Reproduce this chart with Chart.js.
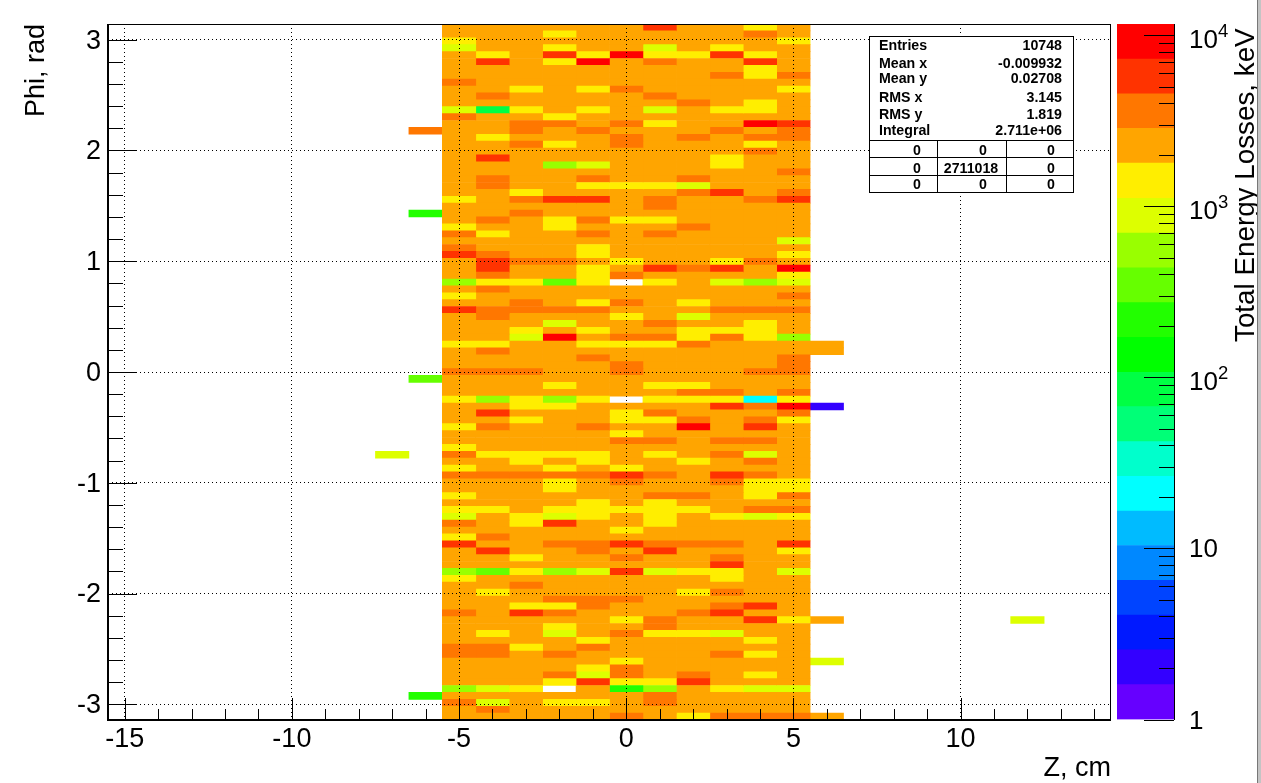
<!DOCTYPE html>
<html>
<head>
<meta charset="utf-8">
<title>Total Energy Losses</title>
<script src="https://cdn.jsdelivr.net/npm/chart.js@4/dist/chart.umd.min.js"></script>
<style>
  html, body { margin: 0; padding: 0; background: #fff; overflow: hidden; }
  #wrap { position: relative; width: 1261px; height: 783px; }
  canvas { position: absolute; left: 0; top: 0; }
  #edge { position: absolute; left: 1257px; top: 0; width: 4px; height: 783px; background: #c4c4c4; border-left: 1px solid #777; box-sizing: border-box; }
</style>
</head>
<body>
<div id="wrap">
  <canvas id="mapChart" width="1261" height="783"></canvas>
  <canvas id="barChart" width="1261" height="783"></canvas>
  <div id="edge"></div>
</div>
<script>
// Z columns of the main block (cm)
const zColumns = [-5, -4, -3, -2, -1, 0, 1, 2, 3, 4, 5];
const zTicks = [-15, -10, -5, 0, 5, 10];
const phiTicks = [-3, -2, -1, 0, 1, 2, 3];

// Total losses in keV, top row (phi = +pi) first, one line per phi bin
const lossRows = [
  [2400,2400,2400,2400,2400,2400,5800,2400,2400,1400,2400],
  [2400,2400,2400,1400,2400,2400,2400,2400,2400,3600,2400],
  [1400,2400,2400,2400,2400,2400,2400,2400,2400,2400,1400],
  [900,2400,2400,1400,2400,2400,900,2400,1400,2400,2400],
  [2400,1400,2400,5800,1400,9000,1400,1400,5800,1400,2400],
  [2400,5800,2400,1400,9000,2400,3600,2400,2400,5800,2400],
  [2400,2400,2400,2400,2400,2400,2400,2400,2400,1400,2400],
  [2400,2400,2400,2400,2400,2400,2400,2400,3600,1400,3600],
  [3600,2400,2400,2400,2400,2400,2400,2400,2400,2400,2400],
  [2400,2400,1400,2400,1400,3600,2400,2400,2400,2400,1400],
  [2400,3600,2400,2400,2400,2400,3600,2400,2400,2400,2400],
  [2400,2400,2400,2400,2400,2400,2400,3600,2400,1400,2400],
  [900,85,1400,2400,1400,2400,900,2400,1400,1400,2400],
  [3600,2400,2400,1400,2400,2400,2400,2400,2400,2400,2400],
  [2400,2400,3600,3600,2400,3600,1400,2400,2400,9000,5800],
  [2400,2400,3600,2400,3600,2400,2400,2400,3600,2400,3600],
  [2400,1400,2400,2400,2400,3600,2400,3600,2400,3600,3600],
  [2400,2400,3600,1400,2400,3600,2400,2400,2400,1400,2400],
  [2400,2400,2400,2400,2400,2400,2400,2400,2400,3600,2400],
  [2400,5800,2400,2400,2400,2400,2400,2400,1400,2400,2400],
  [2400,2400,2400,560,900,2400,2400,2400,1400,2400,2400],
  [2400,2400,2400,2400,2400,2400,2400,2400,2400,2400,3600],
  [2400,3600,2400,2400,3600,2400,2400,3600,2400,2400,2400],
  [2400,3600,2400,2400,1400,1400,1400,900,2400,2400,2400],
  [2400,2400,1400,2400,2400,2400,2400,3600,5800,2400,3600],
  [1400,2400,3600,5800,5800,2400,3600,2400,2400,3600,5800],
  [2400,2400,2400,2400,2400,2400,3600,2400,2400,2400,2400],
  [2400,2400,3600,2400,2400,2400,2400,2400,2400,2400,2400],
  [2400,3600,2400,1400,3600,1400,1400,2400,2400,2400,2400],
  [1400,2400,2400,1400,2400,2400,2400,3600,2400,2400,2400],
  [3600,1400,2400,2400,3600,2400,3600,2400,2400,2400,2400],
  [2400,2400,2400,2400,2400,2400,2400,2400,2400,2400,900],
  [3600,2400,2400,2400,1400,2400,2400,2400,2400,2400,2400],
  [5800,3600,2400,2400,1400,2400,2400,2400,2400,2400,1400],
  [2400,5800,3600,3600,2400,1400,2400,2400,1400,3600,2400],
  [2400,5800,2400,2400,1400,2400,5800,3600,5800,2400,9000],
  [2400,3600,2400,2400,1400,3600,2400,2400,2400,2400,1400],
  [560,1400,1400,350,1400,null,1400,2400,900,560,900],
  [2400,3600,2400,2400,2400,2400,2400,2400,2400,2400,2400],
  [1400,2400,2400,2400,2400,2400,2400,2400,2400,2400,3600],
  [2400,2400,3600,2400,1400,3600,2400,1400,2400,2400,2400],
  [5800,3600,3600,3600,3600,2400,2400,2400,3600,3600,3600],
  [2400,3600,2400,2400,2400,1400,2400,900,2400,2400,2400],
  [2400,2400,2400,900,2400,2400,3600,2400,2400,1400,2400],
  [2400,2400,1400,2400,1400,2400,2400,1400,1400,1400,2400],
  [2400,2400,900,9000,2400,3600,3600,1400,3600,1400,560],
  [1400,1400,2400,2400,1400,1400,1400,3600,2400,2400,2400],
  [2400,3600,2400,2400,2400,2400,2400,2400,2400,2400,2400],
  [2400,2400,2400,2400,3600,2400,2400,2400,2400,2400,3600],
  [2400,2400,2400,2400,2400,3600,2400,2400,2400,2400,3600],
  [3600,3600,3600,2400,2400,3600,2400,2400,2400,3600,3600],
  [2400,2400,2400,2400,2400,2400,2400,2400,2400,2400,2400],
  [2400,2400,2400,1400,2400,2400,1400,1400,2400,2400,2400],
  [2400,2400,2400,2400,2400,2400,2400,3600,3600,2400,3600],
  [1400,560,1400,560,1400,null,1400,1400,1400,21,1400],
  [2400,2400,1400,1400,2400,2400,2400,2400,5800,3600,9000],
  [2400,5800,2400,2400,2400,1400,3600,2400,2400,2400,3600],
  [2400,2400,1400,2400,2400,1400,1400,3600,2400,3600,1400],
  [1400,3600,2400,2400,3600,2400,2400,9000,2400,5800,2400],
  [2400,2400,2400,2400,2400,1400,2400,2400,2400,2400,2400],
  [2400,2400,2400,2400,2400,3600,3600,2400,3600,3600,2400],
  [1400,2400,2400,2400,2400,2400,2400,2400,2400,2400,2400],
  [3600,1400,1400,1400,1400,2400,1400,2400,3600,900,2400],
  [2400,2400,1400,2400,1400,2400,2400,1400,2400,3600,2400],
  [1400,2400,2400,1400,2400,1400,2400,2400,2400,2400,2400],
  [3600,3600,3600,3600,3600,5800,3600,2400,5800,3600,2400],
  [2400,2400,2400,1400,2400,3600,2400,2400,3600,1400,1400],
  [2400,2400,2400,1400,2400,2400,2400,2400,2400,1400,1400],
  [1400,2400,2400,2400,2400,2400,3600,3600,2400,1400,3600],
  [2400,2400,2400,2400,1400,2400,1400,2400,2400,2400,2400],
  [1400,1400,2400,1400,1400,1400,1400,1400,2400,3600,3600],
  [900,2400,1400,900,1400,2400,1400,2400,1400,900,1400],
  [3600,2400,1400,5800,2400,2400,1400,2400,2400,2400,2400],
  [2400,2400,2400,2400,2400,1400,2400,2400,2400,2400,2400],
  [1400,3600,2400,2400,2400,2400,2400,2400,2400,2400,2400],
  [5800,2400,2400,3600,3600,5800,3600,3600,3600,2400,5800],
  [2400,5800,2400,2400,3600,2400,5800,2400,2400,2400,1400],
  [2400,2400,1400,2400,2400,3600,2400,2400,3600,2400,2400],
  [2400,2400,2400,2400,2400,2400,2400,2400,5800,2400,2400],
  [560,350,1400,560,900,5800,900,1400,1400,2400,900],
  [1400,2400,2400,2400,2400,2400,2400,2400,1400,2400,2400],
  [2400,2400,3600,2400,2400,2400,2400,2400,2400,2400,2400],
  [2400,1400,2400,2400,2400,2400,2400,1400,3600,2400,2400],
  [2400,2400,2400,3600,3600,3600,2400,2400,2400,2400,2400],
  [2400,2400,1400,1400,3600,2400,2400,2400,3600,5800,2400],
  [3600,2400,5800,3600,2400,2400,2400,3600,5800,2400,2400],
  [2400,2400,2400,2400,2400,1400,3600,2400,2400,5800,1400],
  [2400,2400,2400,1400,2400,2400,3600,2400,2400,2400,2400],
  [2400,1400,2400,900,2400,3600,1400,1400,900,2400,2400],
  [2400,2400,2400,2400,1400,2400,2400,2400,2400,1400,2400],
  [3600,3600,1400,2400,3600,2400,2400,2400,2400,2400,2400],
  [3600,3600,2400,3600,2400,2400,2400,2400,3600,1400,2400],
  [2400,2400,2400,2400,2400,1400,2400,2400,2400,2400,2400],
  [2400,2400,2400,2400,1400,3600,2400,2400,2400,2400,2400],
  [2400,2400,2400,3600,900,3600,2400,3600,2400,1400,2400],
  [2400,2400,2400,1400,5800,1400,1400,5800,2400,2400,2400],
  [560,900,1400,null,2400,220,560,2400,1400,900,900],
  [2400,2400,2400,2400,2400,2400,3600,2400,2400,2400,2400],
  [3600,900,2400,1400,1400,2400,3600,2400,2400,2400,2400],
  [2400,3600,2400,2400,2400,2400,2400,2400,2400,2400,2400],
  [2400,2400,2400,2400,2400,3600,2400,1400,3600,3600,3600]
];

// Isolated cells outside the main block
const strayZ = [-6, -6, -6, -7, -6, 6, 6, 6, 6, 6, 6, 12];
const strayRow = [15, 27, 51, 62, 97, 46, 47, 55, 86, 92, 100, 86];
const strayLoss = [3600, 220, 350, 900, 220, 2400, 2400, 2, 2400, 900, 2400, 900];

// Colour bar: 20 levels, bottom to top
const levelEdges = [1, 1.6, 2.55, 4.07, 6.5, 10.4, 16.5, 26.4, 42.1, 67.3, 107, 171, 273, 436, 696, 1112, 1783, 2845, 4540, 7246, 11600];
const levelColors = ['#6600ff', '#3300ff', '#0019ff', '#0044ff', '#0088ff', '#00bbff', '#00ffff', '#00ffcc', '#00ff77', '#00ff44',
  '#00ff00', '#22ff00', '#66ff00', '#99ff00', '#ddff00', '#ffee00', '#ffa500', '#ff7700', '#ff3300', '#ff0000'];
const barDecades = [1, 10, 100, 1000, 10000];
const barExponents = ['1', '10', '2', '3', '4'];

// Stats box
const statNames = ['Entries', 'Mean x', 'Mean y', 'RMS x', 'RMS y', 'Integral'];
const statValues = ['10748', '-0.009932', '0.02708', '3.145', '1.819', '2.711e+06'];
const statGrid = [['0', '0', '0'], ['0', '2711018', '0'], ['0', '0', '0']];

const fontName = '"Liberation Sans", Arial, sans-serif';
const colorFor = v => {
  let i = levelEdges.findIndex(e => v < e) - 1;
  if (i < 0) i = levelColors.length - 1;
  return levelColors[i];
};
const phiLabels = lossRows.map((r, i) => 'bin' + i);

// one bar dataset per Z column, floating bars [z-0.5, z+0.5]
const datasets = zColumns.map((z, col) => ({
  data: lossRows.map(r => r[col] === null ? null : [z - 0.5, z + 0.5]),
  backgroundColor: ctx => colorFor(lossRows[ctx.dataIndex][col]),
}));
strayZ.forEach((z, k) => {
  datasets.push({
    data: phiLabels.map((l, i) => i === strayRow[k] ? [z - 0.5, z + 0.5] : null),
    backgroundColor: colorFor(strayLoss[k]),
  });
});
datasets.forEach(d => {
  d.grouped = false;
  d.barPercentage = 1;
  d.categoryPercentage = 1;
  d.borderWidth = 0;
  d.xAxisID = 'x';
  d.yAxisID = 'y';
});

// ROOT style inward ticks and frame
const frameTicks = {
  id: 'frameTicks',
  afterDatasetsDraw(chart) {
    const { ctx, chartArea: a, scales } = chart;
    ctx.save();
    ctx.strokeStyle = '#000';
    ctx.lineWidth = 1;
    ctx.beginPath();
    for (let z = -15; z <= 14; z++) {
      const px = Math.round(scales.x.getPixelForValue(z)) + 0.5;
      ctx.moveTo(px, a.bottom);
      ctx.lineTo(px, a.bottom - (z % 5 === 0 ? 22 : 11));
    }
    for (let k = -15; k <= 15; k++) {
      const py = Math.round(scales.yPhi.getPixelForValue(k / 5)) + 0.5;
      ctx.moveTo(a.left, py);
      ctx.lineTo(a.left + (k % 5 === 0 ? 29 : 15), py);
    }
    ctx.stroke();
    ctx.strokeRect(a.left + 0.5, a.top + 0.5, a.right - a.left - 1, a.bottom - a.top - 1);
    ctx.lineWidth = 2;
    ctx.beginPath();
    ctx.moveTo(a.left, a.top);
    ctx.lineTo(a.left, a.bottom);
    ctx.lineTo(a.right, a.bottom);
    ctx.stroke();
    ctx.restore();
  }
};

new Chart(document.getElementById('mapChart'), {
  type: 'bar',
  data: { labels: phiLabels, datasets: datasets },
  plugins: [frameTicks],
  options: {
    indexAxis: 'y',
    responsive: false,
    animation: false,
    layout: { padding: { left: 0, right: 150, top: 24, bottom: 0 } },
    plugins: { legend: { display: false }, tooltip: { enabled: false } },
    scales: {
      x: {
        type: 'linear',
        min: -15.5,
        max: 14.5,
        afterBuildTicks: s => { s.ticks = zTicks.map(v => ({ value: v })); },
        afterFit: s => { s.height = 63; },
        ticks: { color: '#000', font: { family: fontName, size: 27 }, padding: 3, autoSkip: false, maxRotation: 0 },
        grid: { z: 1, color: '#000', lineWidth: 1, drawTicks: false },
        border: { display: false, dash: [1, 3] },
        title: { display: true, text: 'Z, cm', align: 'end', color: '#000', font: { family: fontName, size: 27 }, padding: { top: 0, bottom: -2 } },
      },
      y: { type: 'category', display: false, grid: { display: false } },
      yPhi: {
        type: 'linear',
        position: 'left',
        display: true,
        offset: false,
        min: -Math.PI,
        max: Math.PI,
        afterBuildTicks: s => { s.ticks = phiTicks.map(v => ({ value: v })); },
        afterFit: s => { s.width = 108; },
        ticks: { color: '#000', font: { family: fontName, size: 27 }, padding: 7, labelOffset: 1.5, autoSkip: false, maxRotation: 0 },
        grid: { z: 1, offset: false, color: '#000', lineWidth: 1, drawTicks: false },
        border: { display: false, dash: [1, 3] },
        title: { display: true, text: 'Phi, rad', align: 'end', color: '#000', font: { family: fontName, size: 27 }, padding: { top: 20, bottom: 0 } },
      },
    },
  },
});

// colour bar ticks, labels, title and the stats box sit on the top canvas
const barDecor = {
  id: 'barDecor',
  afterDatasetsDraw(chart) {
    const { ctx, chartArea: a, scales } = chart;
    const y = scales.y;
    ctx.save();
    ctx.strokeStyle = '#000';
    ctx.lineWidth = 1;
    ctx.beginPath();
    ctx.moveTo(a.right + 0.5, 24);
    ctx.lineTo(a.right + 0.5, 720);
    barDecades.forEach(d => {
      const py = Math.round(y.getPixelForValue(d)) + 0.5;
      ctx.moveTo(a.right, py);
      ctx.lineTo(a.right - 30, py);
      if (d === 10000) return;
      for (let m = 2; m <= 9; m++) {
        const pm = Math.round(y.getPixelForValue(d * m)) + 0.5;
        ctx.moveTo(a.right, pm);
        ctx.lineTo(a.right - 15, pm);
      }
    });
    ctx.stroke();

    ctx.fillStyle = '#000';
    ctx.textAlign = 'left';
    ctx.textBaseline = 'alphabetic';
    barDecades.forEach((d, i) => {
      const py = y.getPixelForValue(d);
      ctx.font = '26px ' + fontName;
      if (i < 2) {
        ctx.fillText(barExponents[i], 1189, py + 9);
      } else {
        ctx.fillText('10', 1189, py + 12.5);
        ctx.font = '18.5px ' + fontName;
        ctx.fillText(barExponents[i], 1218, py + 1.5);
      }
    });

    ctx.save();
    ctx.translate(1254, 342);
    ctx.rotate(-Math.PI / 2);
    ctx.font = '27.8px ' + fontName;
    ctx.fillText('Total Energy Losses, keV', 0, 0);
    ctx.restore();

    // stats box
    const boxL = 869, boxR = 1073, boxT = 36, boxB = 192;
    ctx.fillStyle = '#fff';
    ctx.fillRect(boxL, boxT, boxR - boxL, boxB - boxT);
    ctx.strokeRect(boxL + 0.5, boxT + 0.5, boxR - boxL, boxB - boxT);
    ctx.beginPath();
    [140, 157, 175].forEach(ly => { ctx.moveTo(boxL, ly + 0.5); ctx.lineTo(boxR, ly + 0.5); });
    [937, 1006].forEach(lx => { ctx.moveTo(lx + 0.5, 140); ctx.lineTo(lx + 0.5, boxB); });
    ctx.stroke();
    ctx.fillStyle = '#000';
    ctx.font = 'bold 14.2px ' + fontName;
    const statY = [50, 68, 83, 102, 119, 135];
    statNames.forEach((n, i) => {
      ctx.textAlign = 'left';
      ctx.fillText(n, 879, statY[i]);
      ctx.textAlign = 'right';
      ctx.fillText(statValues[i], 1062, statY[i]);
    });
    ctx.textAlign = 'center';
    const cellX = [917, 983, 1051];
    const cellY = [155, 172.5, 189];
    // the long integer sits left of the column centre in the original
    statGrid.forEach((r, i) => r.forEach((t, j) => ctx.fillText(t, t.length > 1 ? 971 : cellX[j], cellY[i])));
    ctx.restore();
  }
};

new Chart(document.getElementById('barChart'), {
  type: 'bar',
  data: {
    labels: ['levels'],
    datasets: levelColors.map((c, i) => ({
      data: [[levelEdges[i], levelEdges[i + 1]]],
      backgroundColor: c,
      grouped: false,
      barPercentage: 1,
      categoryPercentage: 1,
      borderWidth: 0,
    })),
  },
  plugins: [barDecor],
  options: {
    responsive: false,
    animation: false,
    layout: { padding: { left: 1117, right: 87, top: 24, bottom: 63.5 } },
    plugins: { legend: { display: false }, tooltip: { enabled: false } },
    scales: {
      x: { display: false },
      y: { type: 'logarithmic', min: 1, max: 11600, display: false },
    },
  },
});
</script>
</body>
</html>
